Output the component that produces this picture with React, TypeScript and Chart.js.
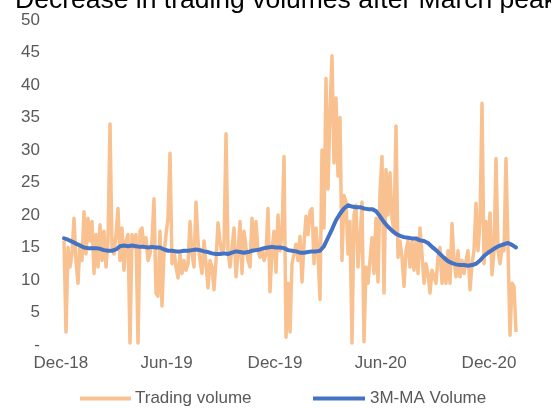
import React, { useEffect, useRef } from 'react';
import { Chart, registerables } from 'chart.js';

Chart.register(...registerables);

const titleText = 'Decrease in trading volumes after March peak';
const seriesNames = ['Trading volume', '3M-MA Volume'];
const seriesColors = ['#F9C18F', '#4472C4'];

// x tick labels and the trading-point index where each falls
const tickLabels = ['Dec-18', 'Jun-19', 'Dec-19', 'Jun-20', 'Dec-20'];
const tickIndex = [-1.6, 51.3, 105.5, 158.4, 212.5];

const yMin = 0;
const yMax = 50;
const yStep = 5;

// Trading volume
const tradingVolume = [
  16, 2, 15, 12, 14, 19.5, 13, 9.5, 15.5, 13,
  20.5, 14, 19.5, 16, 19, 11, 17, 12, 18.5, 13,
  17.5, 12, 16, 34, 15, 14, 17, 21, 13, 18,
  11.5, 16, 17, 0.3, 17, 15, 17, 0.3, 17.5,
  18, 15, 16.5, 13, 14, 16, 22.5, 8, 7.5, 17.5,
  6, 14, 17, 19.5, 29.5, 12.5, 14.5, 12, 10.3, 14,
  11, 13, 11.5, 12.5, 19, 14, 12, 22, 16, 13,
  11, 16, 12.5, 8.8, 13, 12, 8.5, 13, 18.8,
  16, 14, 15, 32.5, 14.5, 12, 15, 18, 10.5, 14,
  19, 11, 17.5, 15, 13, 12, 19.5, 14.5, 19, 14.5,
  13.5, 14.5, 13, 14, 21, 8.2, 14.5, 17.5, 11.2, 20,
  14.5, 17, 29, 1.2, 9.5, 2, 12.5,
  14, 15.5, 13, 16.7, 9.7, 15.5, 19.8, 17, 20.5, 21, 12.5, 18, 14,
  7, 30, 18, 41, 24, 36, 44.5, 28, 38, 26,
  35, 13, 23, 22, 14, 19, 0.3, 20, 21.5, 12,
  16, 22, 0.5, 12, 9.5, 13, 16.5, 11, 19.5, 9.7,
  23.5, 29, 8, 27, 20, 26.5, 19.5, 17.5, 33.7, 13.5,
  16, 13.5, 9, 14.5, 16, 12, 16, 11.5, 16, 11,
  18, 14, 9.5, 12.5, 11, 8, 11.5, 10.5, 9.5, 13.5,
  15, 9.5, 13.5, 9.5, 14.5, 9.5, 18.7, 13, 10.5, 14.5,
  10.5, 13, 11, 13, 14.5, 8.5, 12.5, 14.5, 21.8, 14.5,
  19, 37.2, 12.5, 19, 14.5, 20.3, 10.8, 14.5, 28.7, 14.5,
  12.5, 15, 14.5, 28.7, 15, 1.5, 9.5, 9, 2,
];

// 3M moving average, one value every second trading point
const maStep = 2;
const maVolume = [
  16.4, 16.2, 15.9, 15.6, 15.3, 15.0, 14.9, 14.9, 14.9, 14.8,
  14.6, 14.5, 14.5, 14.7, 15.2, 15.3, 15.2, 15.3, 15.2, 15.1,
  15.1, 15.0, 15.1, 15.0, 15.0, 14.7, 14.5, 14.5, 14.4, 14.4,
  14.5, 14.5, 14.6, 14.7, 14.6, 14.4, 14.3, 14.1, 14.0, 14.0,
  14.1, 14.0, 14.2, 14.4, 14.3, 14.2, 14.3, 14.5, 14.6, 14.7,
  14.9, 15.0, 15.1, 15.0, 15.0, 14.9, 14.6, 14.5, 14.4, 14.2,
  14.2, 14.3, 14.4, 14.4, 14.5, 15.2, 16.5, 17.8, 19.2, 20.2,
  21.0, 21.5, 21.3, 21.2, 21.2, 21.0, 20.9, 20.9, 20.6, 19.8,
  18.9, 18.2, 17.6, 17.1, 16.8, 16.6, 16.5, 16.4, 16.4, 16.1,
  16.0, 15.7, 15.1, 14.6, 14.0, 13.4, 12.9, 12.6, 12.4, 12.3,
  12.3, 12.2, 12.3, 12.5, 13.0, 13.7, 14.2, 14.6, 15.0, 15.3,
  15.5, 15.7, 15.4, 15.0,
];

const FONT = "'Liberation Sans', Arial, sans-serif";
const GREY = '#595959';

export default function App() {
  const ref = useRef<HTMLCanvasElement>(null);

  useEffect(() => {
    if (!ref.current) return;

    const overlay = {
      id: 'overlay',
      afterDraw(chart: any) {
        const ctx = chart.ctx as CanvasRenderingContext2D;
        ctx.save();
        // title (clipped at top as in the reference)
        ctx.fillStyle = '#000000';
        ctx.font = `26.5px ${FONT}`;
        ctx.textAlign = 'left';
        ctx.textBaseline = 'alphabetic';
        ctx.fillText(titleText, 15, 8);
        // legend
        const legendY = 398.5;
        const items = [
          { x0: 80, x1: 131, tx: 135 },
          { x0: 313, x1: 365, tx: 370 },
        ];
        ctx.font = `17px ${FONT}`;
        ctx.textBaseline = 'middle';
        items.forEach((it, k) => {
          ctx.strokeStyle = seriesColors[k];
          ctx.lineWidth = 4;
          ctx.lineCap = 'butt';
          ctx.beginPath();
          ctx.moveTo(it.x0, legendY);
          ctx.lineTo(it.x1, legendY);
          ctx.stroke();
          ctx.fillStyle = GREY;
          ctx.fillText(seriesNames[k], it.tx, legendY);
        });
        ctx.restore();
      },
    };

    const chart = new Chart(ref.current, {
      type: 'line',
      data: {
        datasets: [
          {
            label: seriesNames[0],
            data: tradingVolume.map((v, i) => ({ x: i, y: v })),
            borderColor: seriesColors[0],
            backgroundColor: seriesColors[0],
            borderWidth: 3.5,
            pointRadius: 0,
            tension: 0,
            borderJoinStyle: 'round',
            order: 1,
          },
          {
            label: seriesNames[1],
            data: maVolume.map((v, k) => ({ x: k * maStep, y: v })),
            borderColor: seriesColors[1],
            backgroundColor: seriesColors[1],
            borderWidth: 4,
            pointRadius: 0,
            tension: 0,
            borderJoinStyle: 'round',
            borderCapStyle: 'round',
            order: 0,
          },
        ],
      },
      options: {
        animation: false,
        responsive: true,
        maintainAspectRatio: false,
        layout: { padding: { left: 0, right: 0, top: 20, bottom: 26.6 } },
        plugins: {
          legend: { display: false },
          title: { display: false },
          tooltip: { enabled: false },
        },
        scales: {
          x: {
            type: 'linear',
            min: -10,
            max: 243.5,
            grid: { display: false, drawTicks: false },
            border: { display: false },
            afterBuildTicks: (s: any) => {
              s.ticks = tickIndex.map((v) => ({ value: v }));
            },
            ticks: {
              autoSkip: false,
              maxRotation: 0,
              padding: 8,
              color: GREY,
              font: { family: FONT, size: 17 },
              callback: (_v: any, idx: number) => tickLabels[idx],
            },
          },
          y: {
            min: yMin,
            max: yMax,
            afterFit: (s: any) => {
              s.width = 44;
            },
            grid: { display: false, drawTicks: false },
            border: { display: false },
            ticks: {
              stepSize: yStep,
              padding: 4,
              color: GREY,
              font: { family: FONT, size: 17 },
              callback: (v: any) => (v === 0 ? '-' : String(v)),
            },
          },
        },
      },
      plugins: [overlay],
    } as any);

    return () => chart.destroy();
  }, []);

  return (
    <div style={{ position: 'fixed', left: 0, top: 0, width: 551, height: 408 }}>
      <canvas ref={ref} />
    </div>
  );
}
